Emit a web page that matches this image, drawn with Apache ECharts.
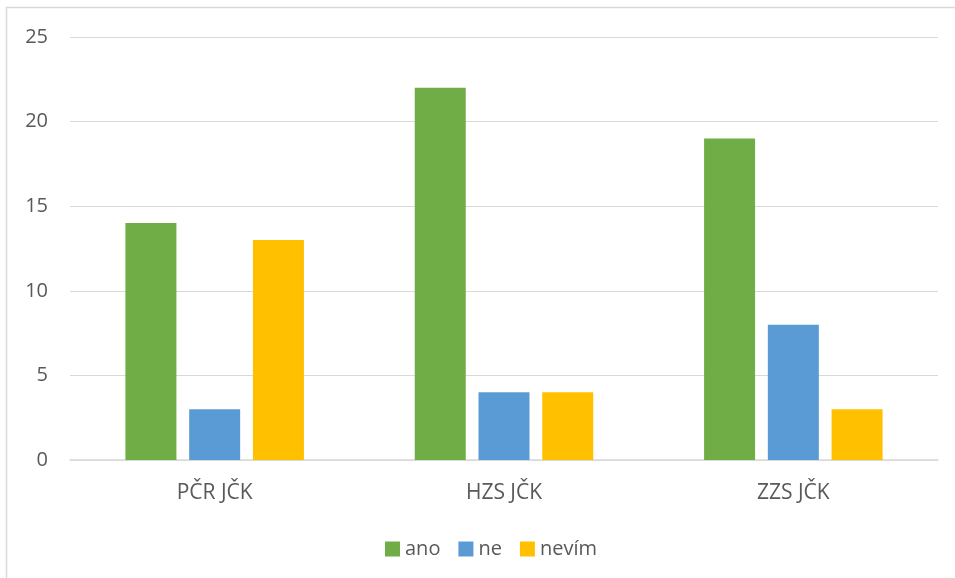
<!DOCTYPE html>
<html><head><meta charset="utf-8">
<script src="https://cdn.jsdelivr.net/npm/echarts@6/dist/echarts.min.js"></script>
<style>html,body{margin:0;padding:0;background:#fff}#c{width:955px;height:578px}</style>
</head><body><div id="c"></div>
<script>
const categories = ['PČR JČK', 'HZS JČK', 'ZZS JČK'];
const seriesNames = ['ano', 'ne', 'nevím'];
const ano = [14, 22, 19];
const ne = [3, 4, 8];
const nevim = [13, 4, 3];
const colors = ['#70AD47', '#5B9BD5', '#FFC000'];
const font = '"Open Sans", "Noto Sans", sans-serif';
const chart = echarts.init(document.getElementById('c'));
chart.setOption({
  animation: false,
  color: colors,
  textStyle: {fontFamily: font},
  graphic: [{type: 'rect', shape: {x: 6.5, y: 7.5, width: 1200, height: 1200}, style: {fill: 'none', stroke: '#d9d9d9', lineWidth: 1.5}, silent: true}],
  grid: {left: 70, right: 17, top: 37, bottom: 118, containLabel: false},
  legend: {top: 534, left: 380, itemWidth: 15, itemHeight: 15, itemGap: 18, icon: 'rect',
    textStyle: {fontSize: 20, color: '#595959', fontFamily: font}},
  xAxis: {type: 'category', data: categories,
    axisLine: {lineStyle: {color: '#d9d9d9', width: 1.5}}, axisTick: {show: false},
    axisLabel: {fontSize: 21, color: '#595959', margin: 23, fontFamily: font}},
  yAxis: {type: 'value', min: 0, max: 25, interval: 5,
    axisLabel: {fontSize: 20, color: '#595959', margin: 22, fontFamily: font},
    splitLine: {lineStyle: {color: '#d9d9d9', width: 1}}},
  series: [
    {name: seriesNames[0], type: 'bar', data: ano, barWidth: 51, barGap: '25%'},
    {name: seriesNames[1], type: 'bar', data: ne, barWidth: 51, barGap: '25%'},
    {name: seriesNames[2], type: 'bar', data: nevim, barWidth: 51, barGap: '25%'}
  ]
});
</script></body></html>
